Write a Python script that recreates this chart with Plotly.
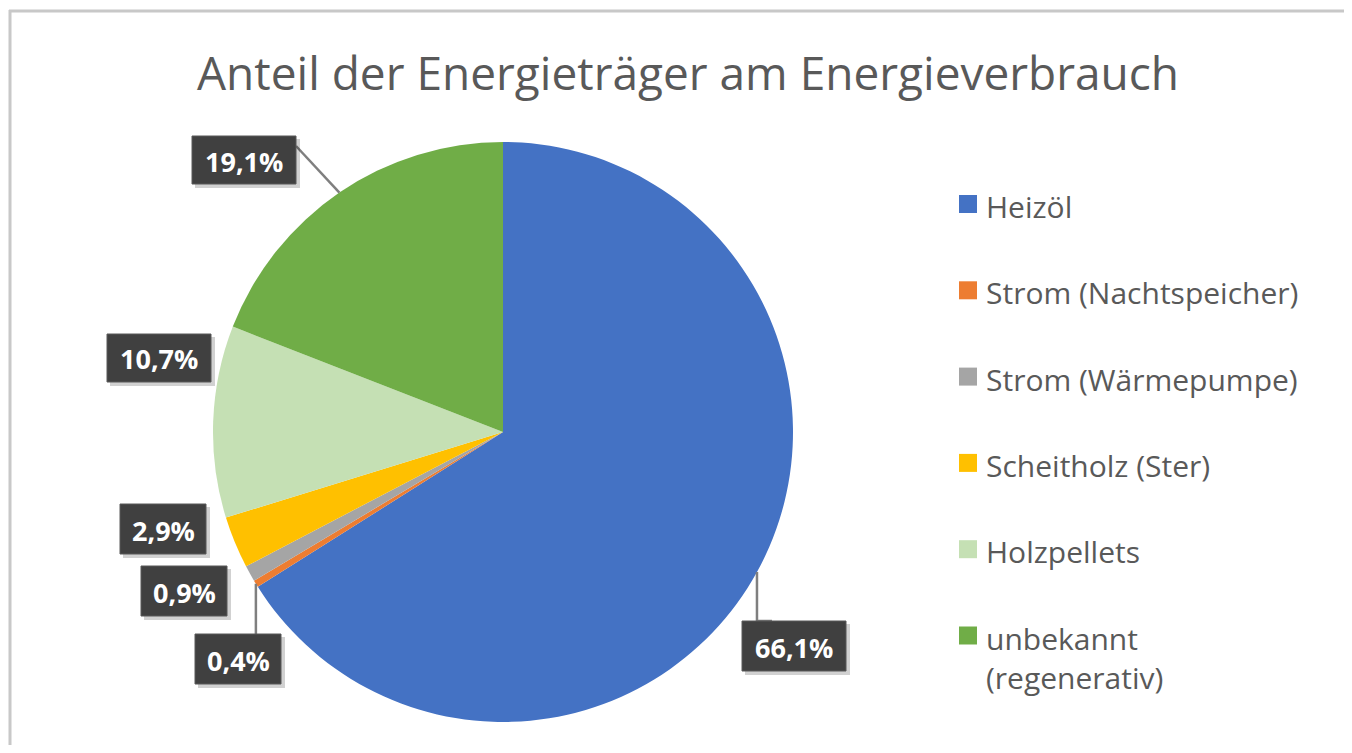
import math
import plotly.graph_objects as go

# ---- data ----
categories = ["Heizöl", "Strom (Nachtspeicher)", "Strom (Wärmepumpe)",
              "Scheitholz (Ster)", "Holzpellets", "unbekannt (regenerativ)"]
shares = [66.1, 0.4, 0.9, 2.9, 10.7, 19.1]
value_labels = ["66,1%", "0,4%", "0,9%", "2,9%", "10,7%", "19,1%"]
colors = ["#4472C4", "#ED7D31", "#A5A5A5", "#FFC000", "#C5E0B4", "#70AD47"]
legend_text = ["Heizöl", "Strom (Nachtspeicher)", "Strom (Wärmepumpe)",
               "Scheitholz (Ster)", "Holzpellets", "unbekannt<br>(regenerativ)"]

OFF = 8  # page body margin
W, H = 1352 - 2 * OFF, 753 - 2 * OFF
FONT = "Open Sans"
GREY = "#595959"

# pie geometry (screen pixels)
cx, cy, R = 503, 432, 290

def px(x):
    return (x - OFF) / W

def py(y):
    return 1 - (y - OFF) / H

fig = go.Figure()
fig.add_trace(go.Pie(
    labels=categories, values=shares, sort=False, direction="clockwise",
    rotation=0, marker=dict(colors=colors, line=dict(width=0)),
    textinfo="none", hoverinfo="label+percent", showlegend=False,
    domain=dict(x=[px(cx - R), px(cx + R)], y=[py(cy + R), py(cy - R)]),
))

shapes = []
annotations = []

# outer frame (only top and left edges visible in the reference)
frame = dict(color="#C8C8C8", width=3)
shapes.append(dict(type="line", xref="paper", yref="paper",
                   x0=px(9), x1=1, y0=py(11), y1=py(11), line=frame))
shapes.append(dict(type="line", xref="paper", yref="paper",
                   x0=px(10), x1=px(10), y0=py(10), y1=0, line=frame))

# label boxes (manually placed, as in the reference): center x, center y, width, height
boxes = {
    "66,1%": (794, 646, 104, 50),
    "0,4%": (238, 659, 86, 50),
    "0,9%": (184, 591, 86, 50),
    "2,9%": (163, 529, 86, 50),
    "10,7%": (159, 358, 104, 48),
    "19,1%": (244, 160, 104, 48),
}

total = sum(shares)
cum = 0.0
mids = []
for v in shares:
    mids.append((cum + v / 2) / total * 2 * math.pi)
    cum += v

# leader lines: from slice mid-edge to box
for i, lab in enumerate(value_labels):
    b = boxes[lab]
    if lab in ("66,1%", "0,4%", "19,1%"):
        a = mids[i]
        ex, ey = cx + R * math.sin(a), cy - R * math.cos(a)
        if lab == "19,1%":
            pts = [(ex, ey), (b[0] + b[2] / 2, b[1] - b[3] / 2 + 10)]
        elif lab == "66,1%":
            pts = [(ex, ey), (ex, b[1] - b[3] / 2), (ex + 15, b[1] - b[3] / 2)]
        else:
            pts = [(ex, ey), (ex, b[1] - b[3] / 2)]
        path = "M " + " L ".join(f"{px(x):.5f},{py(y):.5f}" for x, y in pts)
        shapes.append(dict(type="path", xref="paper", yref="paper", path=path,
                           line=dict(color="#7F7F7F", width=2.5)))

for i, lab in enumerate(value_labels):
    x, y, w, h = boxes[lab]
    # shadow
    shapes.append(dict(type="rect", xref="paper", yref="paper",
                       x0=px(x - w / 2 + 3), x1=px(x + w / 2 + 4),
                       y0=py(y + h / 2 + 4), y1=py(y - h / 2 + 3),
                       line=dict(width=0), fillcolor="rgba(0,0,0,0.18)"))
    shapes.append(dict(type="rect", xref="paper", yref="paper",
                       x0=px(x - w / 2), x1=px(x + w / 2),
                       y0=py(y + h / 2), y1=py(y - h / 2),
                       line=dict(color="#595959", width=1), fillcolor="#404040"))
    annotations.append(dict(xref="paper", yref="paper", x=px(x), y=py(y + 1),
                            text=f"<b>{lab}</b>", showarrow=False,
                            xanchor="center", yanchor="middle",
                            font=dict(family=FONT, size=27, color="white")))

# manual legend
for i, (name, col) in enumerate(zip(legend_text, colors)):
    yc = 204 + i * 86.3
    shapes.append(dict(type="rect", xref="paper", yref="paper",
                       x0=px(959), x1=px(977), y0=py(yc + 9), y1=py(yc - 9),
                       line=dict(width=0), fillcolor=col))
    annotations.append(dict(xref="paper", yref="paper", x=px(984), y=py(yc - 20),
                            text=name, showarrow=False, xanchor="left", yanchor="top",
                            align="left",
                            font=dict(family=FONT, size=30, color=GREY)))

# title
annotations.append(dict(xref="paper", yref="paper", x=px(688), y=py(72),
                        text="Anteil der Energieträger am Energieverbrauch",
                        showarrow=False, xanchor="center", yanchor="middle",
                        font=dict(family=FONT, size=46, color=GREY)))

fig.update_layout(
    width=W, height=H, autosize=False,
    margin=dict(l=0, r=0, t=0, b=0),
    paper_bgcolor="white", plot_bgcolor="white",
    shapes=shapes, annotations=annotations,
)

fig.write_html("out.html", config={"displayModeBar": False})
